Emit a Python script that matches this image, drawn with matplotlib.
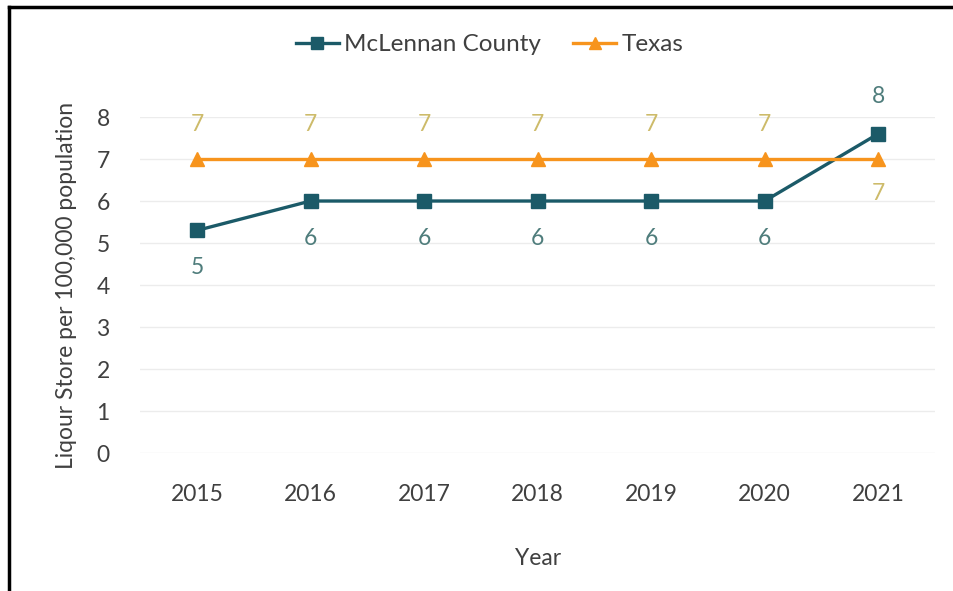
import matplotlib.pyplot as plt
from matplotlib.lines import Line2D

years = ["2015", "2016", "2017", "2018", "2019", "2020", "2021"]
mclennan = [5.3, 6.0, 6.0, 6.0, 6.0, 6.0, 7.6]
texas = [7.0, 7.0, 7.0, 7.0, 7.0, 7.0, 7.0]
y_ticks = [0, 1, 2, 3, 4, 5, 6, 7, 8]

# label placement per point: +1 above, -1 below
mclennan_pos = [-1, -1, -1, -1, -1, -1, 1]
texas_pos = [1, 1, 1, 1, 1, 1, -1]

TEAL = "#1b5a68"
ORANGE = "#f7941d"
TEAL_LABEL = "#4f7d7c"
ORANGE_LABEL = "#cdbb6a"
TEXT = "#404040"
FS = 16.5

plt.rcParams["font.family"] = ["Lato", "DejaVu Sans"]

fig = plt.figure(figsize=(9.54, 5.91), dpi=100)
ax = fig.add_axes([0.147, 0.2335, 0.833, 0.5685])

x = list(range(len(years)))
ax.plot(x, mclennan, color=TEAL, lw=2.4, marker="s", ms=10,
        label="McLennan County", zorder=3, clip_on=False)
ax.plot(x, texas, color=ORANGE, lw=2.4, marker="^", ms=10,
        label="Texas", zorder=3, clip_on=False)

for xi, v, p in zip(x, mclennan, mclennan_pos):
    ax.annotate(f"{v:.0f}", (xi, v), xytext=(0, 27 * p), textcoords="offset points",
                ha="center", va="center", fontsize=FS, color=TEAL_LABEL)
for xi, v, p in zip(x, texas, texas_pos):
    ax.annotate(f"{v:.0f}", (xi, v), xytext=(0, 25 * p), textcoords="offset points",
                ha="center", va="center", fontsize=FS, color=ORANGE_LABEL)

ax.set_xlim(-0.5, len(years) - 0.5)
ax.set_ylim(0, 8)
ax.set_yticks(y_ticks)
ax.set_xticks(x)
ax.set_xticklabels(years)
ax.grid(axis="y", color="#ececec", lw=1)
ax.set_axisbelow(True)
for s in ax.spines.values():
    s.set_visible(False)
ax.tick_params(length=0, labelsize=FS, colors=TEXT)
ax.tick_params(axis="x", pad=22)
ax.tick_params(axis="y", pad=22)

ax.set_xlabel("Year", fontsize=FS, color=TEXT, labelpad=31)
ax.set_ylabel("Liqour Store per 100,000 population", fontsize=FS, color=TEXT, labelpad=14)

handles = [
    Line2D([], [], color=TEAL, lw=2.4, marker="s", ms=9),
    Line2D([], [], color=ORANGE, lw=2.4, marker="^", ms=9),
]
fig.legend(handles, ["McLennan County", "Texas"], loc="center",
           bbox_to_anchor=(0.513, 0.924), ncol=2, frameon=False, fontsize=17.5,
           handlelength=1.8, handletextpad=0.2, columnspacing=1.3,
           labelcolor=TEXT)

# black frame along the left and top edges
fig.add_artist(Line2D([0.0095, 0.0095], [0.0, 0.988], color="black", lw=2.5,
                      transform=fig.transFigure))
fig.add_artist(Line2D([0.0095, 1.0], [0.988, 0.988], color="black", lw=2.5,
                      transform=fig.transFigure))

fig.savefig("out.png", dpi=100)
